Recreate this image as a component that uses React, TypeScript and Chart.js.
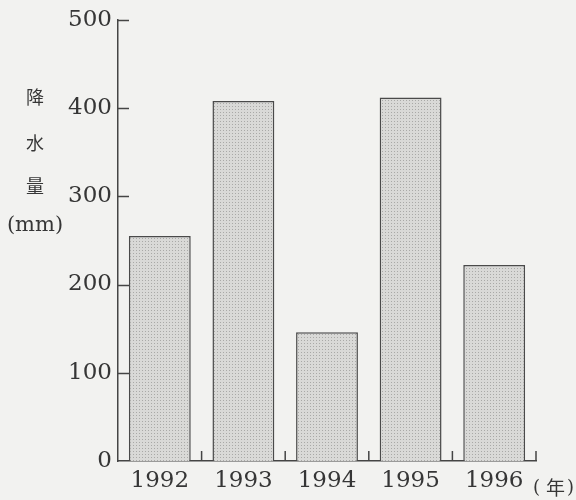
import React, { useEffect, useRef } from "react";
import { Chart, registerables } from "chart.js";

Chart.register(...registerables);

const years = ["1992", "1993", "1994", "1995", "1996"];
const rainfall = [255, 408, 146, 412, 222];
const yTickValues = [0, 100, 200, 300, 400, 500];
const yTitleChars = ["降", "水", "量", "(mm)"];
const xUnit = "(年)";

function makePattern(): CanvasPattern | string {
  const c = document.createElement("canvas");
  c.width = 3;
  c.height = 3;
  const g = c.getContext("2d");
  if (!g) return "#d2d2d2";
  g.fillStyle = "#d9d9d7";
  g.fillRect(0, 0, 3, 3);
  g.fillStyle = "#a9a9a7";
  g.fillRect(1, 1, 1, 1);
  const p = g.createPattern(c, "repeat");
  return p || "#d2d2d2";
}

export default function App() {
  const ref = useRef<HTMLCanvasElement | null>(null);
  useEffect(() => {
    if (!ref.current) return;
    const textColor = "#363636";
    const axisColor = "#454545";
    const decor = {
      id: "decor",
      beforeDraw(chart: any) {
        const ctx = chart.ctx;
        ctx.save();
        ctx.fillStyle = "#f2f2f0";
        ctx.fillRect(0, 0, chart.width, chart.height);
        ctx.restore();
      },
      afterDraw(chart: any) {
        const ctx = chart.ctx;
        const xs = chart.scales.x;
        const ys = chart.scales.y;
        const area = chart.chartArea;
        ctx.save();
        ctx.strokeStyle = axisColor;
        ctx.lineWidth = 1.5;
        yTickValues.forEach((v) => {
          if (v === 0) return;
          const py = Math.round(ys.getPixelForValue(v)) + 0.5;
          ctx.beginPath();
          ctx.moveTo(area.left, py);
          ctx.lineTo(area.left + 11, py);
          ctx.stroke();
        });
        const n = years.length;
        const w = (area.right - area.left) / n;
        for (let i = 0; i < n; i++) {
          const px = xs.getPixelForValue(i) + w / 2;
          ctx.beginPath();
          ctx.moveTo(px, area.bottom);
          ctx.lineTo(px, area.bottom - 10);
          ctx.stroke();
        }
        ctx.fillStyle = textColor;
        ctx.textAlign = "center";
        ctx.textBaseline = "middle";
        const ty = [97, 143, 186, 226];
        yTitleChars.forEach((t, i) => {
          if (t.startsWith("(")) {
            ctx.font = "21px 'DejaVu Serif'";
          } else {
            ctx.font = "18px 'Noto Sans CJK JP'";
          }
          ctx.fillText(t, 35, ty[i]);
        });
        const parts = Array.from(xUnit);
        const ux = [area.right - 3, area.right + 10, area.right + 31];
        ctx.textAlign = "left";
        parts.forEach((p, i) => {
          ctx.font = p === "年" ? "19px 'Noto Sans CJK JP'" : "18px 'DejaVu Serif'";
          ctx.fillText(p, ux[i], 488);
        });
        ctx.restore();
      },
    };
    const chart = new Chart(ref.current, {
      type: "bar",
      data: {
        labels: years,
        datasets: [
          {
            data: rainfall,
            backgroundColor: makePattern() as any,
            borderColor: "#4a4a4a",
            borderWidth: 1.5,
            borderSkipped: "bottom",
            barPercentage: 0.74,
            categoryPercentage: 1,
          },
        ],
      },
      options: {
        responsive: false,
        animation: false,
        layout: { padding: { left: 0, top: 15, right: 40, bottom: 0 } },
        plugins: { legend: { display: false }, tooltip: { enabled: false } },
        scales: {
          x: {
            grid: { display: false, drawTicks: false },
            border: { display: true, color: axisColor, width: 1.5 },
            ticks: {
              color: textColor,
              font: { family: "'DejaVu Serif'", size: 23 },
              padding: 6,
              maxRotation: 0,
            },
            afterFit(scale: any) {
              scale.height = 39;
            },
          },
          y: {
            min: 0,
            max: 500,
            grid: { display: false, drawTicks: false },
            border: { display: true, color: axisColor, width: 1.5 },
            afterBuildTicks(scale: any) {
              scale.ticks = yTickValues.map((v) => ({ value: v }));
            },
            ticks: {
              color: textColor,
              font: { family: "'DejaVu Serif'", size: 23 },
              padding: 6,
            },
            afterFit(scale: any) {
              scale.width = 118;
            },
          },
        },
      },
      plugins: [decor],
    });
    return () => chart.destroy();
  }, []);
  return (
    <div style={{ position: "fixed", left: 0, top: 0, width: 576, height: 500 }}>
      <canvas ref={ref} width={576} height={500} style={{ display: "block" }} />
    </div>
  );
}
